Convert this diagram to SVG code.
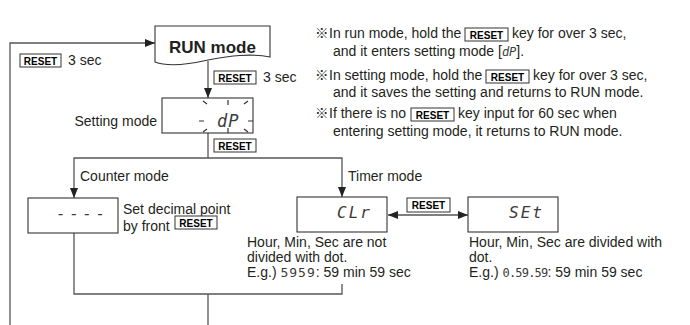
<svg xmlns="http://www.w3.org/2000/svg" width="690" height="325" viewBox="0 0 690 325">
<style>
.t{font-family:"Liberation Sans",Arial,sans-serif;font-size:14px;fill:#231f20}
.b{font-family:"Liberation Sans",Arial,sans-serif;font-size:17px;font-weight:bold;fill:#231f20}
.kt{font-family:"Liberation Sans",Arial,sans-serif;font-size:10px;font-weight:bold;fill:#000;text-anchor:middle}
.key{fill:#fff;stroke:#333;stroke-width:1}
.box{fill:#fff;stroke:#333;stroke-width:1.1}
.seg{font-family:"DejaVu Sans Mono",monospace;font-style:italic;fill:#3a3a3a}
.segn{font-family:"DejaVu Sans Mono",monospace;font-style:normal;fill:#3a3a3a}
.mk{font-family:"Noto Sans CJK JP","DejaVu Sans",sans-serif;font-size:13.5px;fill:#231f20}
.ln{fill:none;stroke:#555;stroke-width:1.3}
.tk{stroke:#333;stroke-width:1.2;fill:none}
</style>
<defs>
<marker id="ah" viewBox="0 0 10 8" refX="10" refY="4" markerWidth="10" markerHeight="8" markerUnits="userSpaceOnUse" orient="auto-start-reverse">
<path d="M0,0 L10,4 L0,8 Z" fill="#222"/>
</marker>
</defs>

<g id="connectors">
<path class="ln" d="M10,325 V43 H155" marker-end="url(#ah)"/>
<path class="ln" d="M208,61 V98" marker-end="url(#ah)"/>
<path class="ln" d="M208,133 V158"/>
<path class="ln" d="M208,158 H74 V198" marker-end="url(#ah)"/>
<path class="ln" d="M208,158 H342 V197" marker-end="url(#ah)"/>
<path class="ln" d="M388,215 H468" marker-start="url(#ah)" marker-end="url(#ah)"/>
<path class="ln" d="M74,233 V294 H342 V284"/>
<path class="ln" d="M208,294 V325"/>
</g>

<g id="connector-labels">
<rect class="key" x="20" y="54" width="41" height="13"/>
<text class="kt" x="40.5" y="64.5">RESET</text>
<text class="t" x="68" y="65">3 sec</text>
<rect class="key" x="214" y="71" width="42" height="13"/>
<text class="kt" x="235" y="81.5">RESET</text>
<text class="t" x="263" y="82">3 sec</text>
<rect class="key" x="214" y="139" width="42" height="13"/>
<text class="kt" x="235" y="149.5">RESET</text>
<text class="t" x="80" y="181">Counter mode</text>
<text class="t" x="348" y="181">Timer mode</text>
<rect class="key" x="407" y="198" width="43" height="14"/>
<text class="kt" x="428.5" y="209">RESET</text>
</g>

<g id="node-run">
<path class="box" d="M155,26 H270 V57 C250,53 230,56 208,60 C186,65 168,67 155,62 Z"/>
<text class="b" x="212.5" y="53" text-anchor="middle">RUN mode</text>
</g>

<g id="node-setting">
<text class="t" x="157" y="126" text-anchor="end">Setting mode</text>
<rect class="box" x="162" y="98" width="91" height="35"/>
<path class="tk" d="M203,101 L207,104 M228,100 V105 M248,101 L244,104 M199,121 H204 M248,121 H253 M203,132 L207,129 M228,128 V133 M248,132 L244,129"/>
<text class="seg" x="217" y="127" font-size="17" letter-spacing="1">dP</text>
</g>

<g id="node-counter">
<rect class="box" x="28" y="198" width="90" height="35"/>
<text class="seg" x="56" y="219" font-size="16" letter-spacing="3.5">----</text>
<text class="t" x="123" y="214">Set decimal point</text>
<text class="t" x="123" y="231">by front</text>
<rect class="key" x="175" y="216" width="42" height="13"/>
<text class="kt" x="196" y="226.5">RESET</text>
</g>

<g id="node-clr">
<rect class="box" x="297" y="197" width="90" height="35"/>
<text class="seg" x="337" y="218" font-size="16" letter-spacing="2">CLr</text>
<text class="t" x="247" y="247">Hour, Min, Sec are not</text>
<text class="t" x="247" y="262">divided with dot.</text>
<text class="t" x="247" y="277">E.g.) <tspan class="segn" font-size="13" letter-spacing="1">5959</tspan>: 59 min 59 sec</text>
</g>

<g id="node-set">
<rect class="box" x="468" y="197" width="90" height="35"/>
<text class="seg" x="509" y="218" font-size="16" letter-spacing="2">SEt</text>
<text class="t" x="469" y="247">Hour, Min, Sec are divided with</text>
<text class="t" x="469" y="262">dot.</text>
<text class="t" x="469" y="277">E.g.) <tspan class="segn" font-size="12" letter-spacing="-0.8">0.59.59</tspan>: 59 min 59 sec</text>
</g>

<g id="notes">
<text class="mk" x="315" y="38">※</text>
<text class="t" x="329" y="38">In run mode, hold the</text>
<rect class="key" x="465" y="28" width="43" height="13"/>
<text class="kt" x="486.5" y="38.5">RESET</text>
<text class="t" x="512" y="38">key for over 3 sec,</text>
<text class="t" x="333" y="56">and it enters setting mode [<tspan class="seg" font-size="12">dP</tspan>].</text>
<text class="mk" x="315" y="80">※</text>
<text class="t" x="329" y="80">In setting mode, hold the</text>
<rect class="key" x="486" y="70" width="43" height="13"/>
<text class="kt" x="507.5" y="80.5">RESET</text>
<text class="t" x="533" y="80">key for over 3 sec,</text>
<text class="t" x="333" y="97">and it saves the setting and returns to RUN mode.</text>
<text class="mk" x="315" y="118">※</text>
<text class="t" x="329" y="118">If there is no</text>
<rect class="key" x="411" y="108" width="43" height="13"/>
<text class="kt" x="432.5" y="118.5">RESET</text>
<text class="t" x="458" y="118">key input for 60 sec when</text>
<text class="t" x="333" y="136">entering setting mode, it returns to RUN mode.</text>
</g>
</svg>
